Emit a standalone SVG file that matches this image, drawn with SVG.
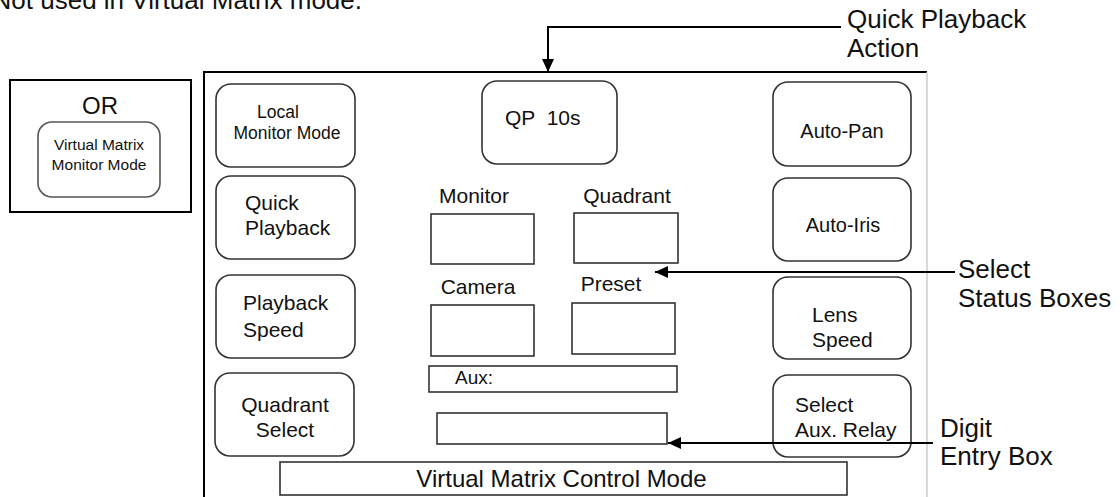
<svg xmlns="http://www.w3.org/2000/svg" width="1120" height="497" viewBox="0 0 1120 497">
<style>
text{font-family:"Liberation Sans",Arial,sans-serif;fill:#111}
.btn{fill:#fff;stroke:#333;stroke-width:1.6}
.box{fill:#fff;stroke:#333;stroke-width:1.6}
.frame{stroke:#000;stroke-width:2;fill:none}
.conn{stroke:#000;stroke-width:2;fill:none}
.c{text-anchor:middle}
.lbl{font-size:26px}
</style>
<defs>
<marker id="ah" markerUnits="userSpaceOnUse" markerWidth="14" markerHeight="12" refX="13" refY="6" orient="auto">
<path d="M0,0 L13,6 L0,12 Z" fill="#000"/>
</marker>
</defs>
<rect width="1120" height="497" fill="#fff"/>
<text x="362" y="9" font-size="26" text-anchor="end">Not used in Virtual Matrix mode.</text>

<g id="or-panel">
<rect x="10" y="80" width="181" height="132" fill="none" stroke="#000" stroke-width="2"/>
<text x="100" y="114" font-size="24" class="c">OR</text>
</g>
<g id="vm-monitor-mode">
<rect x="38" y="122" width="122" height="75" rx="14" fill="#fff" stroke="#555" stroke-width="1.6"/>
<text x="99" y="150" font-size="15.5" class="c">Virtual Matrix</text>
<text x="99" y="170" font-size="15.5" class="c">Monitor Mode</text>
</g>

<g id="frame">
<line x1="204" y1="72" x2="927" y2="72" class="frame"/>
<line x1="204" y1="71" x2="204" y2="497" class="frame"/>
<line x1="927" y1="72" x2="927" y2="497" stroke="#ccc" stroke-width="1.5"/>
</g>

<g id="local-monitor-mode">
<rect x="216" y="84" width="139" height="83" rx="15" class="btn"/>
<text x="278" y="118" font-size="17.5" class="c">Local</text>
<text x="287" y="139" font-size="17.5" class="c">Monitor Mode</text>
</g>
<g id="quick-playback">
<rect x="216" y="176" width="139" height="83" rx="15" class="btn"/>
<text x="245" y="210" font-size="21">Quick</text>
<text x="245" y="235" font-size="21">Playback</text>
</g>
<g id="playback-speed">
<rect x="216" y="275" width="139" height="83" rx="15" class="btn"/>
<text x="243" y="310" font-size="21">Playback</text>
<text x="243" y="337" font-size="21">Speed</text>
</g>
<g id="quadrant-select">
<rect x="215" y="373" width="139" height="83" rx="15" class="btn"/>
<text x="285" y="412" font-size="21" class="c">Quadrant</text>
<text x="285" y="437" font-size="21" class="c">Select</text>
</g>

<g id="qp-10s">
<rect x="482" y="81" width="135" height="83" rx="15" class="btn"/>
<text x="505" y="125" font-size="21" xml:space="preserve">QP  10s</text>
</g>

<g id="monitor">
<text x="474" y="203" font-size="21" class="c">Monitor</text>
<rect x="431" y="214" width="103" height="50" class="box"/>
</g>
<g id="quadrant">
<text x="627" y="203" font-size="21" class="c">Quadrant</text>
<rect x="574" y="213" width="104" height="50" class="box"/>
</g>
<g id="camera">
<text x="478" y="294" font-size="21" class="c">Camera</text>
<rect x="431" y="305" width="103" height="51" class="box"/>
</g>
<g id="preset">
<text x="611" y="291" font-size="21" class="c">Preset</text>
<rect x="572" y="303" width="103" height="51" class="box"/>
</g>
<g id="aux">
<rect x="429" y="366" width="248" height="26" class="box"/>
<text x="455" y="384" font-size="19">Aux:</text>
</g>
<g id="digit-entry">
<rect x="437" y="413" width="230" height="31" class="box"/>
</g>

<g id="auto-pan">
<rect x="773" y="82" width="138" height="84" rx="15" class="btn"/>
<text x="842" y="138" font-size="20" class="c">Auto-Pan</text>
</g>
<g id="auto-iris">
<rect x="773" y="178" width="138" height="83" rx="15" class="btn"/>
<text x="843" y="232" font-size="20" class="c">Auto-Iris</text>
</g>
<g id="lens-speed">
<rect x="773" y="277" width="138" height="82" rx="15" class="btn"/>
<text x="812" y="322" font-size="21">Lens</text>
<text x="812" y="347" font-size="21">Speed</text>
</g>
<g id="select-aux-relay">
<rect x="773" y="375" width="138" height="82" rx="15" class="btn"/>
<text x="795" y="412" font-size="21">Select</text>
<text x="795" y="437" font-size="21">Aux. Relay</text>
</g>

<g id="vm-control-mode">
<rect x="280" y="462" width="567" height="33" class="box"/>
<text x="561.5" y="487" font-size="24" class="c">Virtual Matrix Control Mode</text>
</g>

<g id="connectors">
<polyline points="841,27 548,27 548,72" class="conn" marker-end="url(#ah)"/>
<line x1="955" y1="272" x2="655" y2="272" class="conn" marker-end="url(#ah)"/>
<line x1="933" y1="443" x2="668" y2="443" class="conn" marker-end="url(#ah)"/>
</g>

<g id="labels">
<text x="847" y="28" class="lbl">Quick Playback</text>
<text x="847" y="57" class="lbl">Action</text>
<text x="958" y="278" class="lbl">Select</text>
<text x="958" y="307" class="lbl">Status Boxes</text>
<text x="940" y="437" class="lbl">Digit</text>
<text x="940" y="465" class="lbl">Entry Box</text>
</g>
</svg>
